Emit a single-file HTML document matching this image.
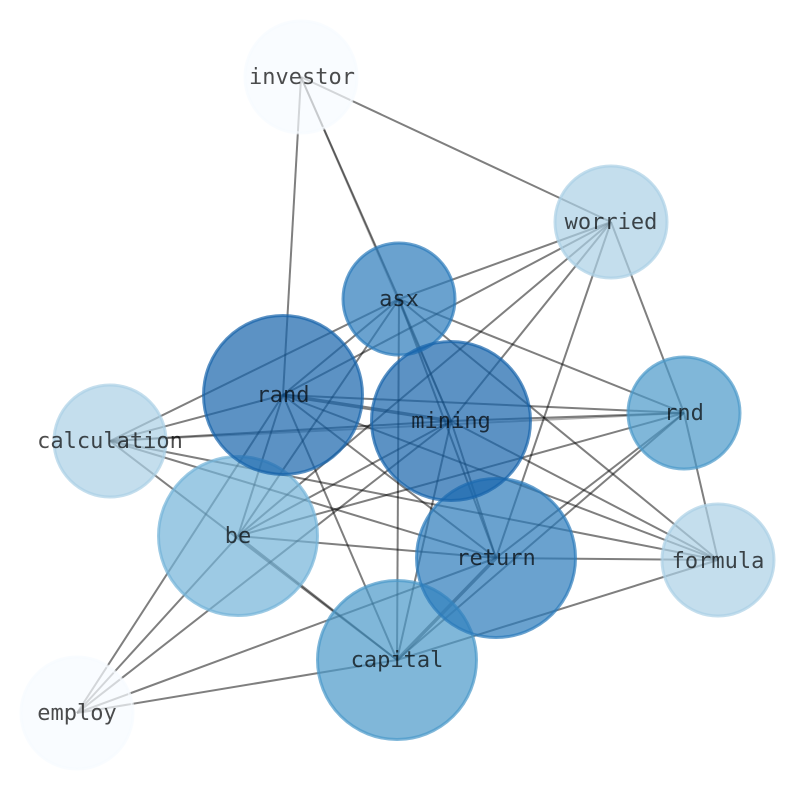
<!DOCTYPE html>
<html><head><meta charset="utf-8"><style>
html,body{margin:0;padding:0;background:#fff}
svg{display:block}
text{font-family:"DejaVu Sans Mono","Liberation Mono",monospace;font-size:22px;text-anchor:middle;fill:#000;fill-opacity:.7}
.e line{stroke:#000;stroke-opacity:.5;stroke-width:2}
.t line{stroke:#000;stroke-opacity:.5;stroke-width:3.5}
.l line{stroke:#000;stroke-opacity:.3;stroke-width:2}
circle{fill-opacity:.7;stroke-opacity:.7;stroke-width:3}
</style></head><body>
<svg width="794" height="790" viewBox="0 0 794 790" xmlns="http://www.w3.org/2000/svg">
<g class="e">
<line x1="301" y1="77" x2="283" y2="395"/>
<line x1="301" y1="77" x2="399" y2="299"/>
<line x1="301" y1="77" x2="611" y2="222"/>
<line x1="611" y1="222" x2="399" y2="299"/>
<line x1="611" y1="222" x2="283" y2="395"/>
<line x1="611" y1="222" x2="238" y2="536"/>
<line x1="611" y1="222" x2="451" y2="421"/>
<line x1="611" y1="222" x2="496" y2="558"/>
<line x1="611" y1="222" x2="684" y2="413"/>
<line x1="399" y1="299" x2="110" y2="441"/>
<line x1="399" y1="299" x2="283" y2="395"/>
<line x1="399" y1="299" x2="238" y2="536"/>
<line x1="399" y1="299" x2="397" y2="660"/>
<line x1="399" y1="299" x2="451" y2="421"/>
<line x1="399" y1="299" x2="496" y2="558"/>
<line x1="399" y1="299" x2="718" y2="560"/>
<line x1="399" y1="299" x2="684" y2="413"/>
<line x1="283" y1="395" x2="110" y2="441"/>
<line x1="283" y1="395" x2="238" y2="536"/>
<line x1="283" y1="395" x2="77" y2="713"/>
<line x1="283" y1="395" x2="397" y2="660"/>
<line x1="283" y1="395" x2="496" y2="558"/>
<line x1="283" y1="395" x2="718" y2="560"/>
<line x1="283" y1="395" x2="684" y2="413"/>
<line x1="110" y1="441" x2="451" y2="421"/>
<line x1="110" y1="441" x2="718" y2="560"/>
<line x1="110" y1="441" x2="496" y2="558"/>
<line x1="110" y1="441" x2="397" y2="660"/>
<line x1="238" y1="536" x2="397" y2="660"/>
<line x1="238" y1="536" x2="496" y2="558"/>
<line x1="238" y1="536" x2="684" y2="413"/>
<line x1="238" y1="536" x2="451" y2="421"/>
<line x1="238" y1="536" x2="77" y2="713"/>
<line x1="77" y1="713" x2="451" y2="421"/>
<line x1="77" y1="713" x2="496" y2="558"/>
<line x1="77" y1="713" x2="397" y2="660"/>
<line x1="397" y1="660" x2="718" y2="560"/>
<line x1="397" y1="660" x2="684" y2="413"/>
<line x1="397" y1="660" x2="451" y2="421"/>
<line x1="496" y1="558" x2="684" y2="413"/>
<line x1="496" y1="558" x2="718" y2="560"/>
<line x1="451" y1="421" x2="496" y2="558"/>
<line x1="451" y1="421" x2="718" y2="560"/>
<line x1="451" y1="421" x2="684" y2="413"/>
<line x1="684" y1="413" x2="718" y2="560"/>
</g>
<g class="l">
<line x1="301" y1="77" x2="451" y2="421"/>
<line x1="110" y1="441" x2="684" y2="413"/>
</g>
<g class="t">
<line x1="283" y1="395" x2="451" y2="421"/>
<line x1="397" y1="660" x2="496" y2="558"/>
</g>
<circle cx="301" cy="77" r="56" fill="#f7fbff" stroke="#f7fbff"/>
<circle cx="611" cy="222" r="56" fill="#abd0e6" stroke="#abd0e6"/>
<circle cx="110" cy="441" r="56" fill="#abd0e6" stroke="#abd0e6"/>
<circle cx="718" cy="560" r="56" fill="#abd0e6" stroke="#abd0e6"/>
<circle cx="77" cy="713" r="56" fill="#f7fbff" stroke="#f7fbff"/>
<circle cx="238" cy="536" r="79.5" fill="#73b3d8" stroke="#73b3d8"/>
<circle cx="684" cy="413" r="56" fill="#4a98c9" stroke="#4a98c9"/>
<circle cx="397" cy="660" r="79.5" fill="#4a98c9" stroke="#4a98c9"/>
<circle cx="399" cy="299" r="56" fill="#2b7bba" stroke="#2b7bba"/>
<circle cx="496" cy="558" r="79.5" fill="#2b7bba" stroke="#2b7bba"/>
<circle cx="283" cy="395" r="79.5" fill="#1764ab" stroke="#1764ab"/>
<circle cx="451" cy="421" r="79.5" fill="#1764ab" stroke="#1764ab"/>
<text x="302" y="84">investor</text>
<text x="611" y="229">worried</text>
<text x="399" y="306">asx</text>
<text x="283" y="402">rand</text>
<text x="451" y="428">mining</text>
<text x="684" y="420">rnd</text>
<text x="110" y="448">calculation</text>
<text x="238" y="543">be</text>
<text x="496" y="565">return</text>
<text x="718" y="568">formula</text>
<text x="397" y="667">capital</text>
<text x="77" y="720">employ</text>
</svg>
</body></html>
